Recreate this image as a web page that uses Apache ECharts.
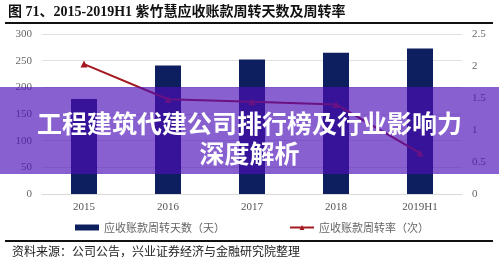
<!DOCTYPE html>
<html><head><meta charset="utf-8">
<script src="https://cdn.jsdelivr.net/npm/echarts@6/dist/echarts.min.js"></script>
<style>html,body{margin:0;padding:0;background:#fff}#c{width:499px;height:263px}</style>
</head><body><div id="c"></div>
<script>
const categories = ['2015','2016','2017','2018','2019H1'];
const turnoverDays = [178, 241, 252, 265, 273];
const turnoverRate = [2.03, 1.48, 1.44, 1.40, 0.64];
const leftTicks = [0, 50, 100, 150, 200, 250, 300];
const rightTicks = [0, 0.5, 1, 1.5, 2, 2.5];
const titleText = '图 71、2015-2019H1 紫竹慧应收账款周转天数及周转率';
const sourceText = '资料来源：公司公告，兴业证券经济与金融研究院整理';
const bannerLines = ['工程建筑代建公司排行榜及行业影响力', '深度解析'];
const legendNames = ['应收账款周转天数（天）', '应收账款周转率（次）'];

const serif = '"Liberation Serif","Noto Sans CJK SC",serif';
const chart = echarts.init(document.getElementById('c'), null, {renderer:'canvas'});
chart.setOption({
  animation:false,
  grid:{left:42,right:37,top:34,bottom:69},
  legend:{
    bottom:25, left:70, itemGap:64, itemWidth:24, itemHeight:6,
    textStyle:{color:'#666', fontSize:11, fontFamily:'"Noto Sans CJK SC",sans-serif'},
    data:[{name:legendNames[0], icon:'rect'},{name:legendNames[1]}]
  },
  xAxis:{type:'category', data:categories,
    axisLine:{lineStyle:{color:'#d9d9d9'}}, axisTick:{show:false},
    axisLabel:{color:'#555', fontSize:11, fontFamily:serif, margin:8}},
  yAxis:[
    {type:'value', min:0, max:300, interval:50,
      axisLabel:{color:'#666', fontSize:11, fontFamily:serif, margin:10},
      splitLine:{lineStyle:{color:'#e0e0e0'}}, axisLine:{show:false}, axisTick:{show:false}},
    {type:'value', min:0, max:2.5, interval:0.5,
      axisLabel:{color:'#666', fontSize:11, fontFamily:serif, margin:10},
      splitLine:{show:false}, axisLine:{show:false}, axisTick:{show:false}}
  ],
  series:[
    {name:legendNames[0], type:'bar', data:turnoverDays, barWidth:26,
      itemStyle:{color:'#0d1f5e'}},
    {name:legendNames[1], type:'line', yAxisIndex:1, data:turnoverRate,
      symbol:'triangle', symbolSize:7,
      lineStyle:{color:'#a3191f', width:2}, itemStyle:{color:'#a3191f'}}
  ],
  graphic:[
    {type:'text', left:8, top:5, z:10, style:{text:titleText, fill:'#111',
      font:'bold 14px "Liberation Serif","Noto Sans CJK SC",serif'}},
    {type:'rect', shape:{x:5, y:22, width:488, height:2}, style:{fill:'#111'}, z:10},
    {type:'rect', shape:{x:5, y:240, width:488, height:2}, style:{fill:'#111'}, z:10},
    {type:'text', left:12, top:245, z:10, style:{text:sourceText, fill:'#222',
      font:'12px "Noto Sans CJK SC",serif'}},
    {type:'rect', shape:{x:0, y:87, width:499, height:87}, z:100,
      style:{fill:'rgba(76,14,184,0.66)'}},
    {type:'text', x:249.5, y:123, z:101, style:{text:bannerLines[0], fill:'#fff',
      align:'center', verticalAlign:'middle',
      font:'bold 25px "Noto Sans CJK SC",sans-serif',
      shadowColor:'rgba(0,0,0,0.5)', shadowBlur:3}},
    {type:'text', x:249.5, y:153, z:101, style:{text:bannerLines[1], fill:'#fff',
      align:'center', verticalAlign:'middle',
      font:'bold 25px "Noto Sans CJK SC",sans-serif',
      shadowColor:'rgba(0,0,0,0.5)', shadowBlur:3}}
  ]
});
</script></body></html>
